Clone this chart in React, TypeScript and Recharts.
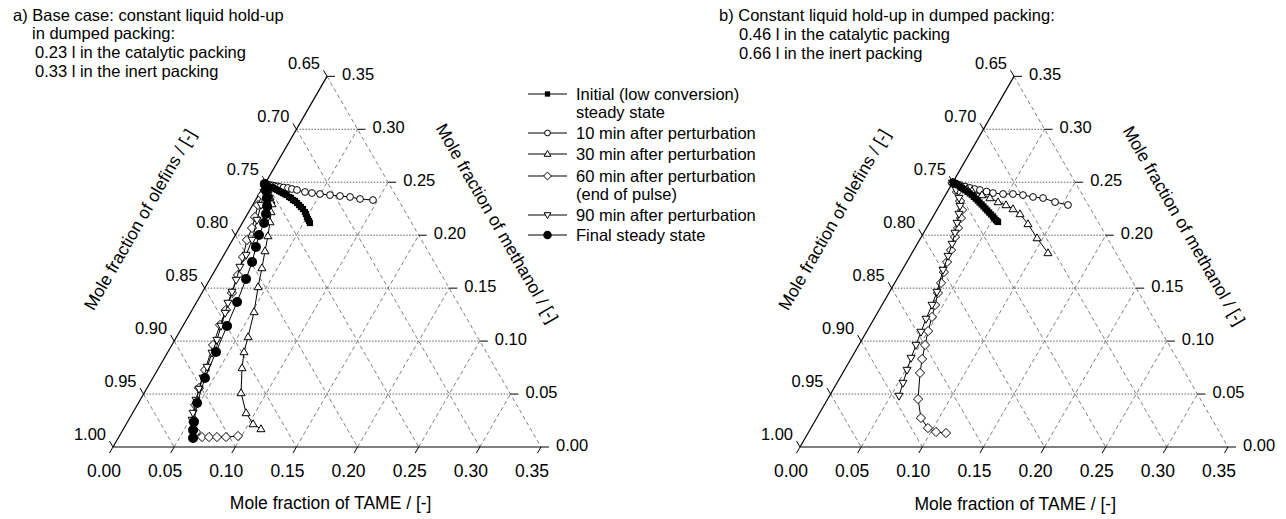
import React from 'react';
import { ScatterChart, Scatter, XAxis, YAxis, ReferenceLine } from 'recharts';

// Readings are [TAME, methanol] mole fractions; olefins = 1 - TAME - methanol.
type Pt = [number, number];

// ---- panel a) base case ----
const initialA: Pt[] = [
  [0.0, 0.248], [0.002, 0.247], [0.004, 0.246], [0.0065, 0.2455], [0.0085, 0.2446],
  [0.011, 0.2436], [0.013, 0.2427], [0.015, 0.2417], [0.017, 0.2408], [0.019, 0.2398],
  [0.021, 0.2389], [0.023, 0.2379], [0.026, 0.2361], [0.028, 0.2351], [0.0306, 0.2332],
  [0.0327, 0.2323], [0.0353, 0.2304], [0.0379, 0.2285], [0.0404, 0.2266], [0.043, 0.2247],
  [0.046, 0.2219], [0.0478, 0.22], [0.05, 0.2172], [0.0518, 0.2153], [0.0536, 0.2134],
  [0.0553, 0.2115],
];
const min10A: Pt[] = [
  [0.0, 0.2483], [0.0023, 0.2478], [0.0047, 0.2474], [0.007, 0.2469], [0.0093, 0.2464],
  [0.0115, 0.246], [0.0138, 0.2455], [0.017, 0.245], [0.0208, 0.2446], [0.0245, 0.2436],
  [0.0291, 0.2427], [0.0366, 0.2408], [0.0428, 0.2398], [0.0498, 0.2389], [0.0585, 0.2379],
  [0.0671, 0.237], [0.0758, 0.2361], [0.0849, 0.2342], [0.096, 0.2332],
];
const min30A: Pt[] = [
  [0.0, 0.2483], [0.0027, 0.2455], [0.0054, 0.2427], [0.008, 0.239], [0.0103, 0.2361],
  [0.0128, 0.2327], [0.0153, 0.2294], [0.0183, 0.2219], [0.0222, 0.2124], [0.0271, 0.1992],
  [0.0318, 0.185], [0.0373, 0.169], [0.0431, 0.1511], [0.0516, 0.1275], [0.0585, 0.1039],
  [0.0623, 0.0897], [0.0682, 0.0746], [0.0792, 0.051], [0.0928, 0.0321], [0.1037, 0.0217],
  [0.1125, 0.017],
];
const min60A: Pt[] = [
  [0.0, 0.2483], [0.0029, 0.2379], [0.0043, 0.2285], [0.0075, 0.2172], [0.0103, 0.2068],
  [0.0118, 0.1955], [0.0166, 0.1794], [0.021, 0.1624], [0.0246, 0.1454], [0.0277, 0.1294],
  [0.0299, 0.1152], [0.0337, 0.0963], [0.0389, 0.0727], [0.0425, 0.0557], [0.0473, 0.0397],
  [0.0535, 0.0255], [0.0608, 0.0142], [0.0681, 0.0094], [0.0738, 0.0094], [0.0803, 0.0094],
  [0.0877, 0.0094], [0.097, 0.0104],
];
const min90A: Pt[] = [
  [0.0, 0.2483], [0.0031, 0.2408], [0.0068, 0.2285], [0.0106, 0.2143], [0.016, 0.1955],
  [0.0182, 0.1813], [0.0188, 0.17], [0.0218, 0.1577], [0.0241, 0.1464], [0.026, 0.136],
  [0.0284, 0.1265], [0.0312, 0.1143], [0.0345, 0.101], [0.0366, 0.0888], [0.0392, 0.0755],
  [0.041, 0.0652], [0.0429, 0.0548], [0.0457, 0.0444], [0.0494, 0.0321], [0.0519, 0.0255],
];
const finalA: Pt[] = [
  [0.0, 0.2483], [0.0038, 0.2427], [0.0084, 0.2351], [0.0122, 0.2275], [0.0151, 0.22],
  [0.0178, 0.2115], [0.0193, 0.2002], [0.0225, 0.1888], [0.0264, 0.1747], [0.0295, 0.1586],
  [0.033, 0.1369], [0.0361, 0.1143], [0.0394, 0.0897], [0.0426, 0.0652], [0.048, 0.0415],
  [0.0544, 0.0236], [0.0574, 0.0161], [0.0612, 0.0085],
];

// ---- panel b) larger hold-up ----
const initialB: Pt[] = [
  [0.0, 0.25], [0.002, 0.249], [0.004, 0.248], [0.006, 0.247], [0.008, 0.2458],
  [0.01, 0.2447], [0.012, 0.2436], [0.014, 0.2424], [0.0165, 0.241], [0.019, 0.2395],
  [0.0215, 0.238], [0.024, 0.2362], [0.0265, 0.2345], [0.029, 0.2327], [0.0315, 0.2308],
  [0.034, 0.229], [0.0365, 0.2271], [0.039, 0.2252], [0.0415, 0.2233], [0.044, 0.2214],
  [0.0465, 0.2195], [0.049, 0.2176], [0.051, 0.2159], [0.053, 0.2143], [0.0545, 0.2132],
  [0.0557, 0.2125],
];
const min10B: Pt[] = [
  [0.0, 0.25], [0.0035, 0.2487], [0.0071, 0.2474], [0.012, 0.246], [0.0167, 0.2446],
  [0.021, 0.2436], [0.0258, 0.2427], [0.032, 0.2412], [0.0379, 0.2398], [0.0466, 0.2389],
  [0.0547, 0.2389], [0.0634, 0.2379], [0.0725, 0.2361], [0.0812, 0.2351], [0.0929, 0.2313],
  [0.1049, 0.2285],
];
const min30B: Pt[] = [
  [0.0, 0.25], [0.0048, 0.2478], [0.0097, 0.2455], [0.0148, 0.2436], [0.0198, 0.2417],
  [0.0299, 0.2379], [0.0378, 0.2351], [0.0463, 0.2313], [0.0542, 0.2285], [0.0618, 0.2247],
  [0.0699, 0.22], [0.0811, 0.2106], [0.0952, 0.1973], [0.1112, 0.1832],
];
const min60B: Pt[] = [
  [0.0, 0.2493], [0.008, 0.2408], [0.0147, 0.2323], [0.0206, 0.2238], [0.0235, 0.2162],
  [0.0258, 0.2068], [0.0276, 0.1983], [0.0305, 0.186], [0.0329, 0.1747], [0.0351, 0.1652],
  [0.0379, 0.1549], [0.0401, 0.1454], [0.0434, 0.1341], [0.0465, 0.1228], [0.05, 0.1095],
  [0.0541, 0.0963], [0.0583, 0.0831], [0.0632, 0.0699], [0.0739, 0.0453], [0.0852, 0.0274],
  [0.0957, 0.0179], [0.1041, 0.0142], [0.1128, 0.0132],
];
const min90B: Pt[] = [
  [0.0, 0.2493], [0.0063, 0.2427], [0.0125, 0.2351], [0.0171, 0.2275], [0.02, 0.22],
  [0.0227, 0.2115], [0.0257, 0.2021], [0.0285, 0.1917], [0.0309, 0.1803], [0.0334, 0.1671],
  [0.0388, 0.1464], [0.0409, 0.1341], [0.0426, 0.1209], [0.0446, 0.1086], [0.0467, 0.0963],
  [0.0488, 0.084], [0.0512, 0.0727], [0.054, 0.0604], [0.0569, 0.0482],
];

const TICKS = [0, 0.05, 0.1, 0.15, 0.2, 0.25, 0.3, 0.35];
const GRID = [0.05, 0.1, 0.15, 0.2, 0.25, 0.3];
const OLEFIN_LABELS = ['1.00', '0.95', '0.90', '0.85', '0.80', '0.75', '0.70', '0.65'];
const METHANOL_LABELS = ['0.00', '0.05', '0.10', '0.15', '0.20', '0.25', '0.30', '0.35'];
const TAME_LABELS = ['0.00', '0.05', '0.10', '0.15', '0.20', '0.25', '0.30', '0.35'];
const SIDE = 0.35;

const HEADER_A = [
  'a) Base case: constant liquid hold-up',
  'in dumped packing:',
  '0.23 l in the catalytic packing',
  '0.33 l in the inert packing',
];
const HEADER_B = [
  'b) Constant liquid hold-up in dumped packing:',
  '0.46 l in the catalytic packing',
  '0.66 l in the inert packing',
];

type MarkerKind = 'square' | 'circle' | 'up' | 'diamond' | 'down' | 'filled';

const LEGEND: { lines: string[]; marker: MarkerKind }[] = [
  { lines: ['Initial (low conversion)', 'steady state'], marker: 'square' },
  { lines: ['10 min after perturbation'], marker: 'circle' },
  { lines: ['30 min after perturbation'], marker: 'up' },
  { lines: ['60 min after perturbation', '(end of pulse)'], marker: 'diamond' },
  { lines: ['90 min after perturbation'], marker: 'down' },
  { lines: ['Final steady state'], marker: 'filled' },
];

const FONT = '"Liberation Sans", Arial, Helvetica, sans-serif';
const SIN60 = Math.sqrt(3) / 2;
const SCALE = 428 / SIDE; // px per unit
const HEIGHT = 519;
const ORIGIN_Y = 447;

const toXY = (p: Pt) => ({ x: p[0] + p[1] / 2, y: p[1] * SIN60 });

function drawMarker(kind: MarkerKind, cx: number, cy: number, k = 1) {
  switch (kind) {
    case 'square':
      return <rect x={cx - 3.1 * k} y={cy - 3.1 * k} width={6.2 * k} height={6.2 * k} fill="#000" />;
    case 'circle':
      return <circle cx={cx} cy={cy} r={3.4 * k} fill="#fff" stroke="#000" strokeWidth={1} />;
    case 'up':
      return (
        <polygon
          points={`${cx},${cy - 4.2 * k} ${cx + 4 * k},${cy + 2.7 * k} ${cx - 4 * k},${cy + 2.7 * k}`}
          fill="#fff" stroke="#000" strokeWidth={1}
        />
      );
    case 'down':
      return (
        <polygon
          points={`${cx},${cy + 4.2 * k} ${cx + 4 * k},${cy - 2.7 * k} ${cx - 4 * k},${cy - 2.7 * k}`}
          fill="#fff" stroke="#000" strokeWidth={1}
        />
      );
    case 'diamond':
      return (
        <polygon
          points={`${cx},${cy - 4.6 * k} ${cx + 4.6 * k},${cy} ${cx},${cy + 4.6 * k} ${cx - 4.6 * k},${cy}`}
          fill="#fff" stroke="#000" strokeWidth={1}
        />
      );
    default:
      return <circle cx={cx} cy={cy} r={5 * k} fill="#000" />;
  }
}

interface LabelPoint {
  x: number;
  y: number;
  text: string;
  kind: 'left' | 'right' | 'bottom' | 'title';
  rotate?: number;
}

function renderLabel(props: any) {
  const { cx, cy, payload } = props;
  const d = payload as LabelPoint;
  const common = { fontFamily: FONT, fill: '#000', dominantBaseline: 'central' as const };
  if (d.kind === 'left') {
    return (
      <g>
        <line x1={cx} y1={cy} x2={cx - 3.5} y2={cy - 6} stroke="#000" strokeWidth={1} />
        <text x={cx - 7} y={cy - 13} textAnchor="end" fontSize={16.5} {...common}>{d.text}</text>
      </g>
    );
  }
  if (d.kind === 'right') {
    return (
      <g>
        <line x1={cx} y1={cy} x2={cx + 8} y2={cy} stroke="#000" strokeWidth={1} />
        <text x={cx + 15} y={cy - 2} textAnchor="start" fontSize={16.5} {...common}>{d.text}</text>
      </g>
    );
  }
  if (d.kind === 'bottom') {
    return (
      <g>
        <line x1={cx} y1={cy} x2={cx - 3.5} y2={cy + 6} stroke="#000" strokeWidth={1} />
        <text x={cx - 9} y={cy + 24} textAnchor="middle" fontSize={17.5} {...common}>{d.text}</text>
      </g>
    );
  }
  return (
    <text
      x={cx} y={cy} textAnchor="middle" fontSize={17.5}
      transform={`rotate(${d.rotate ?? 0} ${cx} ${cy})`} {...common}
    >
      {d.text}
    </text>
  );
}

interface SeriesDef {
  key: string;
  data: Pt[];
  marker: MarkerKind;
}

interface PanelProps {
  width: number;
  originX: number;
  series: SeriesDef[];
  olefinTitle: string;
  olefinAt: Pt; // cartesian position in triangle units
  methanolAt: Pt;
  tameAt: Pt;
}

function TernaryPanel({ width, originX, series, olefinTitle, olefinAt, methanolAt, tameAt }: PanelProps) {
  const xDomain = [-originX / SCALE, (width - originX) / SCALE];
  const yDomain = [(ORIGIN_Y - HEIGHT) / SCALE, ORIGIN_Y / SCALE];

  const labels: LabelPoint[] = [
    ...TICKS.map((v, i) => ({ ...toXY([0, v]), text: OLEFIN_LABELS[i], kind: 'left' as const })),
    ...TICKS.map((v, i) => ({ ...toXY([SIDE - v, v]), text: METHANOL_LABELS[i], kind: 'right' as const })),
    ...TICKS.map((v, i) => ({ ...toXY([v, 0]), text: TAME_LABELS[i], kind: 'bottom' as const })),
    { x: olefinAt[0], y: olefinAt[1], text: olefinTitle, kind: 'title', rotate: -60 },
    { x: methanolAt[0], y: methanolAt[1], text: 'Mole fraction of methanol / [-]', kind: 'title', rotate: 60 },
    { x: tameAt[0], y: tameAt[1], text: 'Mole fraction of TAME / [-]', kind: 'title', rotate: 0 },
  ];

  const seg = (a: Pt, b: Pt) => [toXY(a), toXY(b)] as any;
  const dashed = { stroke: '#808080', strokeWidth: 1, strokeDasharray: '4 3' };
  const dotted = { stroke: '#606060', strokeWidth: 1, strokeDasharray: '1.5 1.5' };

  return (
    <ScatterChart width={width} height={HEIGHT} margin={{ top: 0, right: 0, bottom: 0, left: 0 }}>
      <XAxis type="number" dataKey="x" domain={xDomain} hide allowDataOverflow />
      <YAxis type="number" dataKey="y" domain={yDomain} hide allowDataOverflow />
      {GRID.map((m) => (
        <ReferenceLine key={`m${m}`} segment={seg([0, m], [SIDE - m, m])} {...dotted} ifOverflow="visible" />
      ))}
      {GRID.map((t) => (
        <ReferenceLine key={`t${t}`} segment={seg([t, 0], [t, SIDE - t])} {...dashed} ifOverflow="visible" />
      ))}
      {[...GRID, SIDE].map((c) => (
        <ReferenceLine key={`c${c}`} segment={seg([0, c], [c, 0])} {...dashed} ifOverflow="visible" />
      ))}
      <ReferenceLine segment={seg([0, 0], [0, SIDE])} stroke="#000" strokeWidth={1.2} ifOverflow="visible" />
      <ReferenceLine segment={seg([0, 0], [SIDE, 0])} stroke="#000" strokeWidth={1.2} ifOverflow="visible" />
      {series.map((s) => (
        <Scatter
          key={s.key}
          data={s.data.map(toXY)}
          fill="#000"
          line={{ stroke: '#000', strokeWidth: 1 }}
          lineType="joint"
          shape={(p: any) => drawMarker(s.marker, p.cx, p.cy)}
          isAnimationActive={false}
        />
      ))}
      <Scatter data={labels} shape={renderLabel} isAnimationActive={false} />
    </ScatterChart>
  );
}

const seriesA: SeriesDef[] = [
  { key: 'min10', data: min10A, marker: 'circle' },
  { key: 'min30', data: min30A, marker: 'up' },
  { key: 'min60', data: min60A, marker: 'diamond' },
  { key: 'min90', data: min90A, marker: 'down' },
  { key: 'final', data: finalA, marker: 'filled' },
  { key: 'initial', data: initialA, marker: 'square' },
];
const seriesB: SeriesDef[] = [
  { key: 'min10', data: min10B, marker: 'circle' },
  { key: 'min30', data: min30B, marker: 'up' },
  { key: 'min60', data: min60B, marker: 'diamond' },
  { key: 'min90', data: min90B, marker: 'down' },
  { key: 'initial', data: initialB, marker: 'square' },
];

function Overlay() {
  const headerA = [[13, 15], [32, 33], [35, 52], [35, 71]];
  const headerB = [[719, 15], [739, 34], [739, 53]];
  const legendY = [94, 133, 154, 176, 215, 235];
  const textStyle = { fontFamily: FONT, fontSize: 16.5, fill: '#000', dominantBaseline: 'central' as const };
  return (
    <svg width={1286} height={HEIGHT} style={{ position: 'absolute', left: 0, top: 0, pointerEvents: 'none' }}>
      {HEADER_A.map((line, i) => (
        <text key={`a${i}`} x={headerA[i][0]} y={headerA[i][1]} {...textStyle}>{line}</text>
      ))}
      {HEADER_B.map((line, i) => (
        <text key={`b${i}`} x={headerB[i][0]} y={headerB[i][1]} {...textStyle}>{line}</text>
      ))}
      {LEGEND.map((item, i) => (
        <g key={item.marker}>
          <line x1={528} x2={567} y1={legendY[i]} y2={legendY[i]} stroke="#000" strokeWidth={1} />
          {drawMarker(item.marker, 547.5, legendY[i], 0.85)}
          {item.lines.map((l, j) => (
            <text key={j} x={576} y={legendY[i] + j * 18} {...textStyle}>{l}</text>
          ))}
        </g>
      ))}
    </svg>
  );
}

export default function App() {
  return (
    <div style={{ position: 'relative', width: 1286, height: HEIGHT, background: '#fff', overflow: 'hidden' }}>
      <style>{'body{margin:0}'}</style>
      <div style={{ position: 'absolute', left: 0, top: 0 }}>
        <TernaryPanel
          width={688}
          originX={113}
          series={seriesA}
          olefinTitle="Mole fraction of olefins / [-]"
          olefinAt={[0.022, 0.186]}
          methanolAt={[0.314, 0.183]}
          tameAt={[0.178, -0.0455]}
        />
      </div>
      <div style={{ position: 'absolute', left: 688, top: 0 }}>
        <TernaryPanel
          width={598}
          originX={112}
          series={seriesB}
          olefinTitle="Mole fraction of  olefins / [-]"
          olefinAt={[0.028, 0.186]}
          methanolAt={[0.314, 0.181]}
          tameAt={[0.176, -0.0466]}
        />
      </div>
      <Overlay />
    </div>
  );
}
